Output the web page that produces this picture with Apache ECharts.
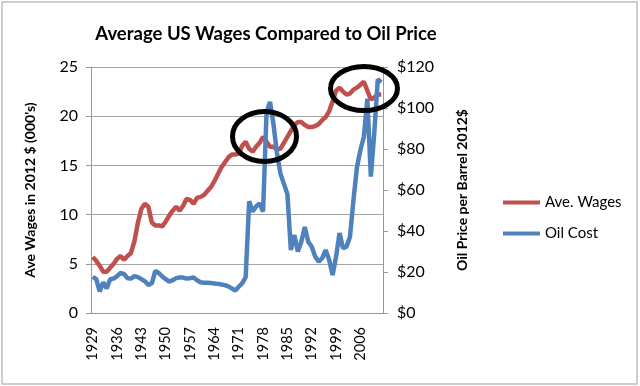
<!DOCTYPE html>
<html><head><meta charset="utf-8">
<script src="https://cdn.jsdelivr.net/npm/echarts@6/dist/echarts.min.js"></script>
<style>html,body{margin:0;padding:0;background:#fff}#c{width:640px;height:386px}</style>
</head><body><div id="c"></div>
<script>
var years = [];
for (var y = 1929; y <= 2012; y++) years.push(String(y));

var wages = [5.7,5.3,4.8,4.2,4.2,4.6,5.0,5.5,5.8,5.4,5.8,6.1,7.3,9.2,10.6,11.1,10.8,9.2,8.9,8.9,8.8,9.3,9.9,10.4,10.8,10.4,10.9,11.6,11.5,11.1,11.7,11.8,12.0,12.4,12.8,13.4,14.1,14.8,15.3,15.8,16.1,16.1,16.2,17.0,17.4,16.7,16.4,16.9,17.3,17.9,17.4,16.9,16.9,16.6,16.7,17.3,17.9,18.5,19.1,19.4,19.4,19.1,18.9,18.9,19.0,19.2,19.6,19.9,20.5,21.5,22.6,22.9,22.5,22.2,22.3,22.7,22.9,23.2,23.5,22.6,21.7,21.9,22.2,22.2];

var oil = [17.7,16.5,10.5,15.0,12.0,16.5,16.8,18.0,19.5,19.0,17.0,16.8,18.0,17.5,16.5,15.5,13.7,14.5,20.5,19.5,17.8,16.5,15.3,16.0,17.0,17.3,17.3,16.8,17.0,17.3,16.0,15.0,14.8,14.8,14.6,14.4,14.2,13.9,13.6,13.0,12.0,11.0,12.8,14.5,17.5,54.5,49.5,52.0,53.5,49.5,98,103,92,78,68,63,58,30.7,38,30,34.8,42,34.8,32.3,27.5,25,26.7,30.7,26,18.5,27.5,39,31.6,32.3,37.2,55,71,79.5,86,104.5,66.5,88,114,112.5];

var leftTicks = [0, 25, 5];
var rightTicks = [0, 120, 20];

var FONT = 'Lato';
var chart = echarts.init(document.getElementById('c'), null, {renderer: 'canvas'});
chart.setOption({
  backgroundColor: '#fff',
  animation: false,
  textStyle: {fontFamily: FONT, color: '#000'},
  title: {
    text: 'Average US Wages Compared to Oil Price',
    left: 261, top: 20, textAlign: 'center',
    textStyle: {fontFamily: FONT, fontWeight: 'bold', fontSize: 18.5, color: '#000'}
  },
  legend: {
    orient: 'vertical', left: 498, top: 190, itemGap: 16,
    itemWidth: 37, itemHeight: 4, icon: 'rect',
    textStyle: {fontFamily: FONT, fontSize: 15, color: '#000'},
    data: ['Ave. Wages', 'Oil Cost']
  },
  grid: {left: 91, right: 257, top: 67, bottom: 73, containLabel: false},
  xAxis: {
    type: 'category', data: years, boundaryGap: true,
    axisLine: {lineStyle: {color: '#999', width: 1}},
    axisTick: {interval: 0, length: 4, lineStyle: {color: '#999'}},
    axisLabel: {interval: 6, rotate: 90, margin: 14, fontSize: 14.5, color: '#000', fontFamily: FONT}
  },
  yAxis: [{
    type: 'value', min: leftTicks[0], max: leftTicks[1], interval: leftTicks[2],
    name: "Ave Wages in 2012 $ (000's)", nameLocation: 'middle', nameRotate: 90, nameGap: 54,
    nameTextStyle: {fontFamily: FONT, fontWeight: 'bold', fontSize: 14, color: '#000'},
    axisLine: {show: true, lineStyle: {color: '#999'}},
    axisTick: {show: true, length: 5, lineStyle: {color: '#999'}},
    axisLabel: {fontSize: 16, color: '#000', margin: 13, fontFamily: FONT},
    splitLine: {show: true, lineStyle: {color: '#a6a6a6', width: 1.2}}
  }, {
    type: 'value', position: 'right', min: rightTicks[0], max: rightTicks[1], interval: rightTicks[2],
    name: 'Oil Price per Barrel 2012$', nameLocation: 'middle', nameRotate: 90, nameGap: 72,
    nameTextStyle: {fontFamily: FONT, fontWeight: 'bold', fontSize: 14, color: '#000'},
    axisLine: {show: true, lineStyle: {color: '#999'}},
    axisTick: {show: true, length: 5, lineStyle: {color: '#999'}},
    axisLabel: {fontSize: 16, color: '#000', margin: 14, fontFamily: FONT,
      formatter: function (v) { return '$' + v; }},
    splitLine: {show: false}
  }],
  series: [{
    name: 'Ave. Wages', type: 'line', yAxisIndex: 0, data: wages,
    symbol: 'none', lineStyle: {color: '#C0504D', width: 4.5}, itemStyle: {color: '#C0504D'}
  }, {
    name: 'Oil Cost', type: 'line', yAxisIndex: 1, data: oil,
    symbol: 'none', lineStyle: {color: '#4F81BD', width: 4.5}, itemStyle: {color: '#4F81BD'}
  }],
  graphic: [
    {type: 'rect', shape: {x: 2, y: 2, width: 635, height: 382}, style: {fill: 'none', stroke: '#bdbdbd', lineWidth: 1.5}, silent: true},
    {type: 'ellipse', shape: {cx: 264.5, cy: 136.5, rx: 32, ry: 25}, style: {fill: 'none', stroke: '#000', lineWidth: 5}, z: 100},
    {type: 'ellipse', shape: {cx: 364, cy: 88.5, rx: 33.5, ry: 22}, style: {fill: 'none', stroke: '#000', lineWidth: 5}, z: 100}
  ]
});
</script>
</body></html>
